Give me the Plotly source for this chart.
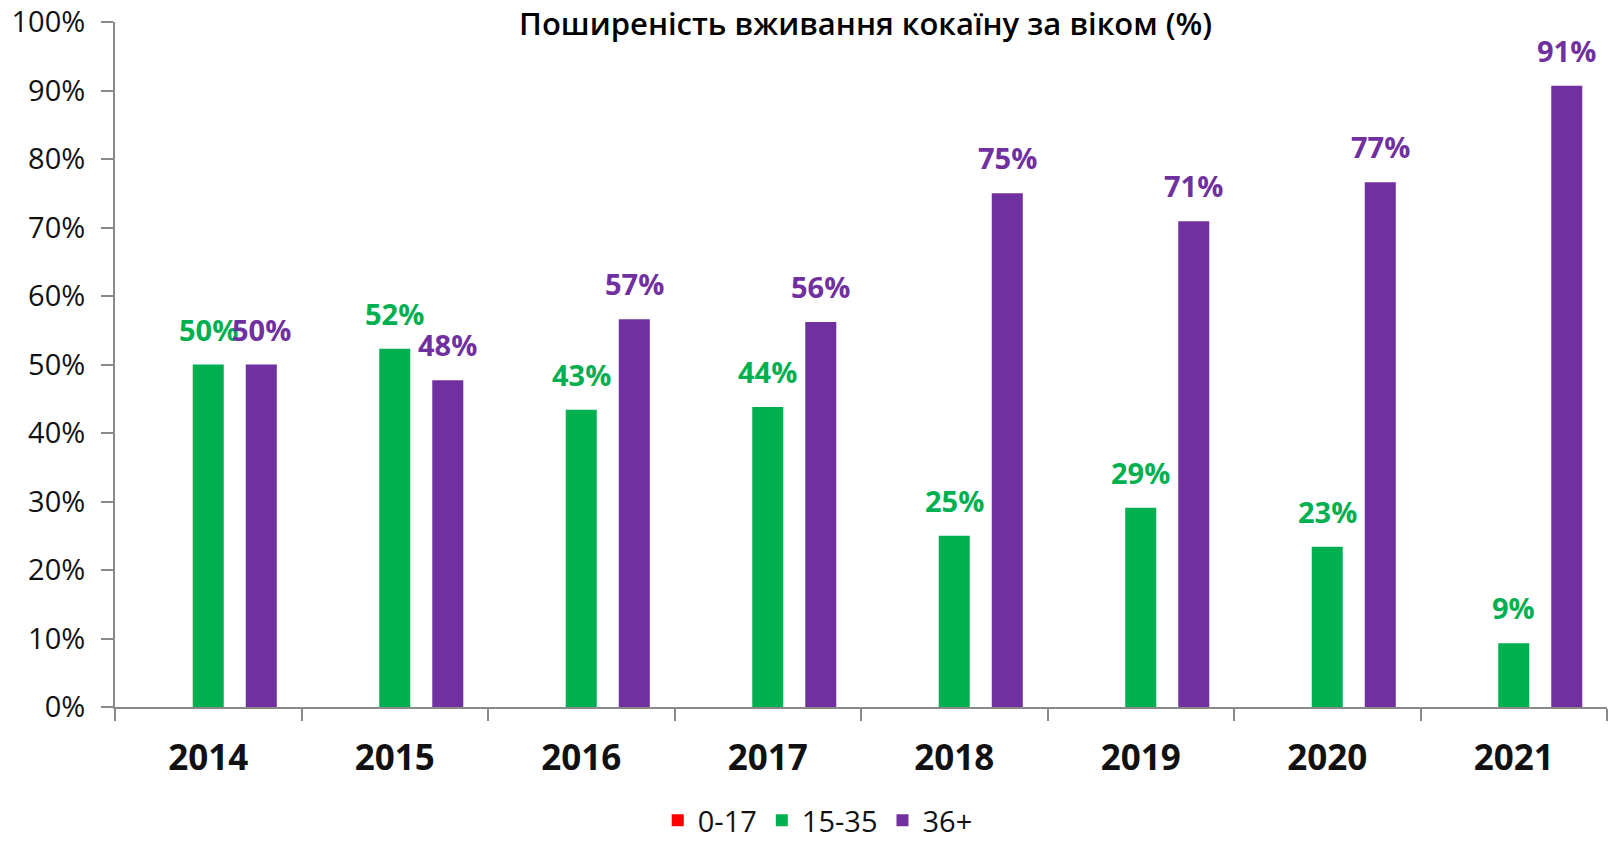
import plotly.graph_objects as go

years = ["2014", "2015", "2016", "2017", "2018", "2019", "2020", "2021"]
age_0_17 = [0, 0, 0, 0, 0, 0, 0, 0]
age_15_35 = [50.0, 52.3, 43.4, 43.8, 25.0, 29.1, 23.4, 9.3]
age_36_plus = [50.0, 47.7, 56.6, 56.2, 75.0, 70.9, 76.6, 90.7]
series_names = ["0-17", "15-35", "36+"]
colors = ["#FF0000", "#00B050", "#7030A0"]

FONT = "Open Sans"
BARGAP = 0.147
BARGROUPGAP = 0.415

fig = go.Figure()
for name, vals, col in zip(series_names, [age_0_17, age_15_35, age_36_plus], colors):
    fig.add_trace(go.Bar(x=years, y=vals, name=name, marker=dict(color=col, line=dict(width=0))))

# data labels as annotations above the bars
slot = (1 - BARGAP) / 3
for k, (vals, col) in enumerate([(age_15_35, colors[1]), (age_36_plus, colors[2])]):
    offset = k * slot  # green centered, purple one slot to the right
    for i, v in enumerate(vals):
        fig.add_annotation(
            x=i + offset, y=v, xref="x", yref="y",
            text=f"{round(v):d}%", showarrow=False,
            yanchor="bottom", xanchor="center", yshift=14,
            font=dict(family=FONT, size=29, color=col, weight="bold"),
        )

fig.update_layout(
    width=1612, height=846,
    paper_bgcolor="white", plot_bgcolor="white",
    margin=dict(l=115, r=5, t=22, b=139, autoexpand=False),
    barmode="group", bargap=BARGAP, bargroupgap=BARGROUPGAP,
    title=dict(text="Поширеність вживання кокаїну за віком (%)",
               x=0.537, xanchor="center", y=0.972, yanchor="middle", yref="container",
               font=dict(family=FONT, size=31, color="#000000", weight=600)),
    legend=dict(orientation="h", x=0.471, xanchor="center", y=0.0, yanchor="bottom",
                yref="container", font=dict(family=FONT, size=29, color="#111111"),
                itemwidth=30),
    showlegend=True,
)
fig.update_xaxes(
    type="category", automargin=False, showline=True, linecolor="#898989", linewidth=2,
    ticks="outside", tickson="boundaries", ticklen=12, tickwidth=2, tickcolor="#898989",
    tickfont=dict(family=FONT, size=35, color="#111111", weight="bold"),
    ticklabelstandoff=19, ticklabeloverflow="allow", showgrid=False, zeroline=False,
)
fig.update_yaxes(
    range=[0, 100], dtick=10, ticksuffix="%", automargin=False, showline=True,
    linecolor="#898989", linewidth=2,
    ticks="outside", ticklen=12, tickwidth=2, tickcolor="#898989",
    tickfont=dict(family=FONT, size=29, color="#111111"),
    ticklabelstandoff=10, ticklabeloverflow="allow", showgrid=False, zeroline=False,
)

# remove the browser's default 8px body margin so the figure fills the window exactly
fig.write_html("out.html", config={"displayModeBar": False},
               post_script="document.body.style.margin='0';")
